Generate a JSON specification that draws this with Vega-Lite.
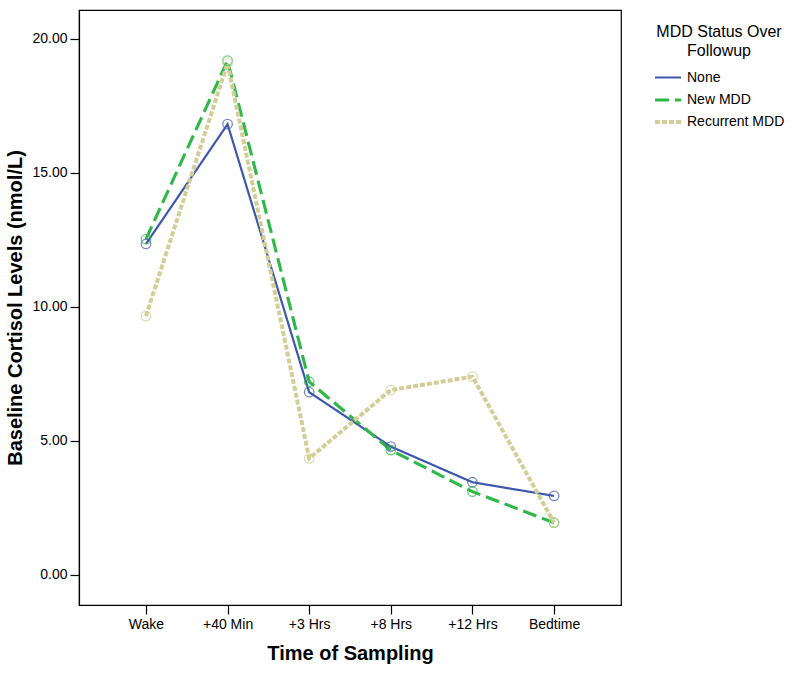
{
  "$schema": "https://vega.github.io/schema/vega-lite/v6.json",
  "width": 542,
  "height": 595,
  "autosize": "none",
  "padding": {"left": 79, "top": 10, "right": 179, "bottom": 68},
  "background": "white",
  "config": {
    "font": "Liberation Sans",
    "view": {"stroke": "#000000", "strokeWidth": 1.2},
    "axis": {
      "grid": false,
      "domainColor": "#000000",
      "domainWidth": 1.2,
      "tickColor": "#000000",
      "tickWidth": 1.2,
      "tickSize": 9,
      "labelPadding": 3,
      "labelFont": "Liberation Sans",
      "labelFontSize": 14,
      "labelColor": "#000000",
      "titleFont": "Liberation Sans",
      "titleFontSize": 20,
      "titleFontWeight": "bold",
      "titleColor": "#000000"
    }
  },
  "data": {
    "values": [
      {"time": "Wake", "status": "None", "cortisol": 12.35},
      {"time": "+40 Min", "status": "None", "cortisol": 16.82},
      {"time": "+3 Hrs", "status": "None", "cortisol": 6.82},
      {"time": "+8 Hrs", "status": "None", "cortisol": 4.79},
      {"time": "+12 Hrs", "status": "None", "cortisol": 3.46},
      {"time": "Bedtime", "status": "None", "cortisol": 2.95},
      {"time": "Wake", "status": "New MDD", "cortisol": 12.53},
      {"time": "+40 Min", "status": "New MDD", "cortisol": 19.19},
      {"time": "+3 Hrs", "status": "New MDD", "cortisol": 7.21},
      {"time": "+8 Hrs", "status": "New MDD", "cortisol": 4.66},
      {"time": "+12 Hrs", "status": "New MDD", "cortisol": 3.11},
      {"time": "Bedtime", "status": "New MDD", "cortisol": 1.95},
      {"time": "Wake", "status": "Recurrent MDD", "cortisol": 9.66},
      {"time": "+40 Min", "status": "Recurrent MDD", "cortisol": 19.09},
      {"time": "+3 Hrs", "status": "Recurrent MDD", "cortisol": 4.35},
      {"time": "+8 Hrs", "status": "Recurrent MDD", "cortisol": 6.9},
      {"time": "+12 Hrs", "status": "Recurrent MDD", "cortisol": 7.4},
      {"time": "Bedtime", "status": "Recurrent MDD", "cortisol": 1.95}
    ]
  },
  "encoding": {
    "x": {
      "field": "time",
      "type": "nominal",
      "sort": ["Wake", "+40 Min", "+3 Hrs", "+8 Hrs", "+12 Hrs", "Bedtime"],
      "scale": {"type": "point", "padding": 0.82},
      "axis": {"title": "Time of Sampling", "labelAngle": 0, "titlePadding": 12}
    },
    "y": {
      "field": "cortisol",
      "type": "quantitative",
      "scale": {"domain": [-1.12, 21.08], "nice": false, "zero": false},
      "axis": {"title": "Baseline Cortisol Levels (nmol/L)", "values": [0, 5, 10, 15, 20], "format": ".2f", "titlePadding": 6}
    }
  },
  "layer": [
    {
      "mark": {"type": "line"},
      "encoding": {
        "color": {
          "field": "status",
          "type": "nominal",
          "scale": {"domain": ["None", "New MDD", "Recurrent MDD"], "range": ["#3E58AC", "#2EB848", "#D3CE97"]},
          "legend": {
            "title": ["MDD Status Over", "Followup"],
            "orient": "none",
            "legendX": 574,
            "legendY": 14,
            "titleFontSize": 16,
            "titleFontWeight": "normal",
            "titleColor": "#000000",
            "titleAlign": "center",
            "titleAnchor": "middle",
            "titleLineHeight": 19,
            "titlePadding": 4,
            "labelFontSize": 14,
            "labelColor": "#000000",
            "labelOffset": 4,
            "symbolType": "stroke",
            "symbolSize": 676,
            "rowPadding": -6
          }
        },
        "strokeDash": {
          "field": "status",
          "type": "nominal",
          "scale": {"domain": ["None", "New MDD", "Recurrent MDD"], "range": [[1, 0], [14, 6], [5, 2]]},
          "legend": {
            "title": ["MDD Status Over", "Followup"],
            "orient": "none",
            "legendX": 574,
            "legendY": 14
          }
        },
        "strokeWidth": {
          "field": "status",
          "type": "nominal",
          "scale": {"domain": ["None", "New MDD", "Recurrent MDD"], "range": [2.2, 4, 4]},
          "legend": {
            "title": ["MDD Status Over", "Followup"],
            "orient": "none",
            "legendX": 574,
            "legendY": 14
          }
        }
      }
    },
    {
      "mark": {"type": "point", "shape": "circle", "filled": false, "size": 90, "strokeWidth": 1.3},
      "encoding": {
        "stroke": {
          "field": "status",
          "type": "nominal",
          "scale": {"domain": ["None", "New MDD", "Recurrent MDD"], "range": ["#3E58AC", "#2EB848", "#D3CE97"]},
          "legend": null
        }
      }
    }
  ]
}
